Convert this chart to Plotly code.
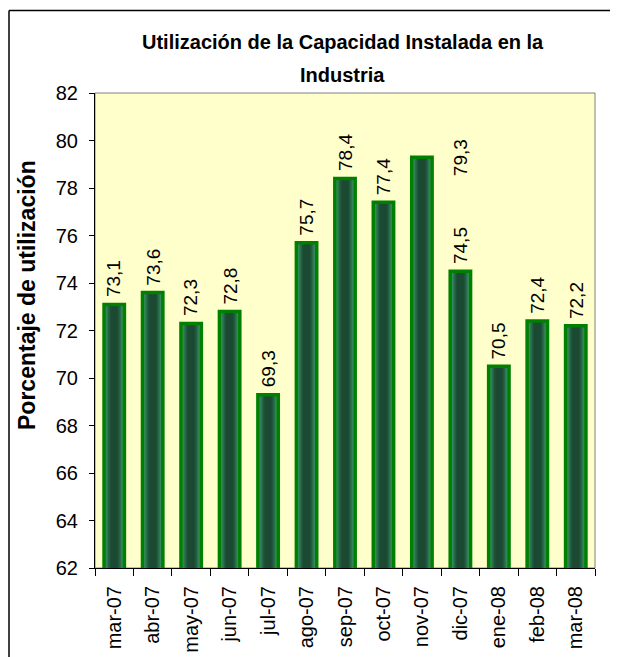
import plotly.graph_objects as go

categories = ["mar-07", "abr-07", "may-07", "jun-07", "jul-07", "ago-07", "sep-07",
              "oct-07", "nov-07", "dic-07", "ene-08", "feb-08", "mar-08"]
values = [73.1, 73.6, 72.3, 72.8, 69.3, 75.7, 78.4, 77.4, 79.3, 74.5, 70.5, 72.4, 72.2]
y_ticks = [62, 64, 66, 68, 70, 72, 74, 76, 78, 80, 82]

FONT = "Liberation Sans, Arial, sans-serif"
BAR_W = 0.53

# gradient layers (light edges -> dark centre)
layer_widths = [0.53, 0.47, 0.41, 0.35, 0.29, 0.23, 0.17]
layer_colors = ["#44a373", "#3b9166", "#327f59", "#2a6d4c", "#235e41", "#1e5238", "#1b4932"]

fig = go.Figure()
for w, c in zip(layer_widths, layer_colors):
    fig.add_trace(go.Bar(
        x=categories, y=values, base=0, width=w,
        marker=dict(color=c, line=dict(width=0)),
        hoverinfo="skip", showlegend=False,
    ))
fig.add_trace(go.Bar(
    x=categories, y=values, width=BAR_W,
    marker=dict(color="rgba(0,0,0,0)", line=dict(color="#008000", width=3.5)),
    hoverinfo="skip", showlegend=False,
))

def fmt(v):
    return f"{v:.1f}".replace(".", ",")

annotations = []
for i, (c, v) in enumerate(zip(categories, values)):
    if i == 8:
        # the reference shows this label displaced to the next column
        ax_cat = categories[i + 1]
        ay = v - 1.1
    else:
        ax_cat = c
        ay = v
    annotations.append(dict(
        x=ax_cat, y=ay, xref="x", yref="y", text=fmt(v), textangle=-90,
        showarrow=False, yanchor="bottom", xanchor="center", yshift=5,
        font=dict(family=FONT, size=19, color="black"),
    ))

# page has an 8px body margin; work in page pixels and convert
OFF = 8
W, H = 621 - OFF, 657 - OFF
L, T = 95 - OFF, 93 - OFF
R = W - (595 - OFF)
B = H - (568 - OFF)
pw, ph = W - L - R, H - T - B

def px(x):
    return (x - OFF - L) / pw

def py(y):
    return 1 - (y - OFF - T) / ph

annotations += [
    dict(x=px(343), y=py(42), xref="paper", yref="paper",
         text="<b>Utilización de la Capacidad Instalada en la</b>",
         showarrow=False, xanchor="center", yanchor="middle",
         font=dict(family=FONT, size=20, color="black")),
    dict(x=px(342), y=py(75), xref="paper", yref="paper", text="<b>Industria</b>",
         showarrow=False, xanchor="center", yanchor="middle",
         font=dict(family=FONT, size=20, color="black")),
    dict(x=px(27), y=py(295), xref="paper", yref="paper", text="<b>Porcentaje de utilización</b>",
         textangle=-90, showarrow=False, xanchor="center", yanchor="middle",
         font=dict(family=FONT, size=23, color="black")),
]

shapes = [
    dict(type="rect", xref="paper", yref="paper", x0=0, x1=1, y0=0, y1=1,
         line=dict(color="#808080", width=1), layer="below"),
    # outer chart frame (top and left edges)
    dict(type="line", xref="paper", yref="paper",
         x0=px(9), x1=px(610), y0=py(10.5), y1=py(10.5),
         line=dict(color="black", width=1.5)),
    dict(type="line", xref="paper", yref="paper",
         x0=px(9), x1=px(9), y0=py(10.5), y1=py(665),
         line=dict(color="black", width=1.5)),
]

fig.update_layout(
    width=W, height=H,
    margin=dict(l=L, r=R, t=T, b=B, pad=0, autoexpand=False),
    paper_bgcolor="white", plot_bgcolor="#FFFFCC",
    barmode="overlay",
    showlegend=False,
    annotations=annotations,
    shapes=shapes,
    font=dict(family=FONT, color="black"),
)
fig.update_xaxes(
    type="category", categoryorder="array", categoryarray=categories,
    showline=True, linecolor="black", linewidth=1,
    ticks="outside", ticklen=7, tickcolor="black", tickson="boundaries",
    tickangle=-90, tickfont=dict(family=FONT, size=20, color="black"),
    showgrid=False, zeroline=False, fixedrange=True, ticklabelstandoff=9,
    automargin=False,
)
fig.update_yaxes(
    range=[62, 82], tickmode="array", tickvals=y_ticks, ticktext=[str(t) for t in y_ticks],
    showline=True, linecolor="black", linewidth=1,
    ticks="outside", ticklen=5, tickcolor="black",
    tickfont=dict(family=FONT, size=20, color="black"),
    showgrid=False, zeroline=False, fixedrange=True, ticklabelstandoff=7,
    automargin=False,
)

fig.write_html("out.html")
